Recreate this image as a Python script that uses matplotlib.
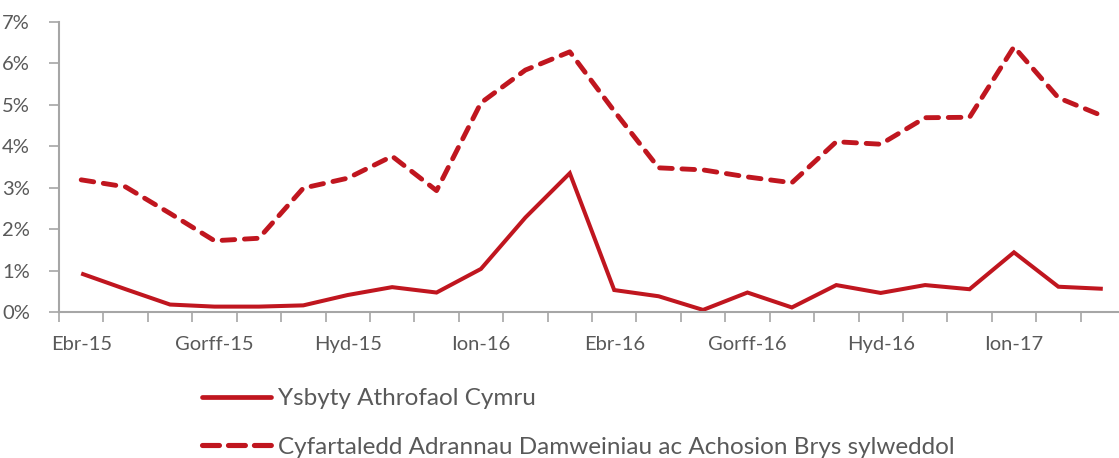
import matplotlib
matplotlib.use("Agg")
import matplotlib.pyplot as plt
import numpy as np
from matplotlib.lines import Line2D

# monthly share, Apr 2015 - Mar 2017 (percent)
months = ['Ebr-15', 'Mai-15', 'Meh-15', 'Gorff-15', 'Aws-15', 'Medi-15',
          'Hyd-15', 'Tach-15', 'Rhag-15', 'Ion-16', 'Chwe-16', 'Maw-16',
          'Ebr-16', 'Mai-16', 'Meh-16', 'Gorff-16', 'Aws-16', 'Medi-16',
          'Hyd-16', 'Tach-16', 'Rhag-16', 'Ion-17', 'Chwe-17', 'Maw-17']
ysbyty = [0.93, 0.55, 0.18, 0.13, 0.13, 0.16, 0.41, 0.60, 0.47, 1.04, 2.28, 3.35,
          0.53, 0.38, 0.05, 0.47, 0.11, 0.65, 0.46, 0.65, 0.55, 1.44, 0.61, 0.56]
cyfartaledd = [3.19, 3.02, 2.38, 1.72, 1.78, 2.99, 3.23, 3.76, 2.93, 5.05, 5.84, 6.28,
               4.85, 3.48, 3.43, 3.26, 3.12, 4.11, 4.05, 4.69, 4.70, 6.40, 5.17, 4.73]
label_every = 3
series_names = ['Ysbyty Athrofaol Cymru',
                'Cyfartaledd Adrannau Damweiniau ac Achosion Brys sylweddol']

RED = '#C0161F'
GREY = '#595959'
AXIS = '#A6A6A6'

plt.rcParams['font.family'] = ['Lato', 'DejaVu Sans']

W, H = 1119, 458
fig = plt.figure(figsize=(W / 100, H / 100), dpi=100)
ax = fig.add_axes([59 / W, (H - 312) / H, 1066 / W, 290 / H])

x = np.arange(len(months))
ax.plot(x, ysbyty, color=RED, lw=2.9, solid_joinstyle='miter', solid_capstyle='butt')
ax.plot(x, cyfartaledd, color=RED, lw=3.5, dashes=(2.6, 2.0), dash_capstyle='round',
        dash_joinstyle='round')

ax.set_xlim(-0.5, len(months) - 0.5)
ax.set_ylim(0, 7)

# ticks on month boundaries, labels every quarter
ax.set_xticks(np.arange(-0.5, len(months), 1))
ax.set_xticklabels([])
ax.set_xticks(x[::label_every], minor=True)
ax.set_xticklabels(months[::label_every], minor=True)
ax.tick_params(axis='x', which='major', length=7, width=1.2, color=AXIS, direction='out')
ax.tick_params(axis='x', which='minor', length=0, pad=17, labelsize=14.5, labelcolor=GREY)

ax.set_yticks(np.arange(0, 8, 1))
ax.set_yticklabels([f'{v}%' for v in range(8)])
ax.tick_params(axis='y', length=7, width=1.2, color=AXIS, pad=14, labelsize=14.5,
               labelcolor=GREY)

for s in ['top', 'right']:
    ax.spines[s].set_visible(False)
for s in ['left', 'bottom']:
    ax.spines[s].set_color(AXIS)
    ax.spines[s].set_linewidth(1.5)

handles = [Line2D([], [], color=RED, lw=3.4, solid_capstyle='round'),
           Line2D([], [], color=RED, lw=3.7, dashes=(3.3, 1.75), dash_capstyle='round')]
fig.legend(handles, series_names, loc='upper left', bbox_to_anchor=(202 / W, 1 - 388 / H),
           frameon=False, fontsize=17.5, labelcolor=GREY, handlelength=2.85,
           handletextpad=0.28, labelspacing=1.15, borderpad=0, borderaxespad=0)

fig.savefig('out.png', dpi=100)
